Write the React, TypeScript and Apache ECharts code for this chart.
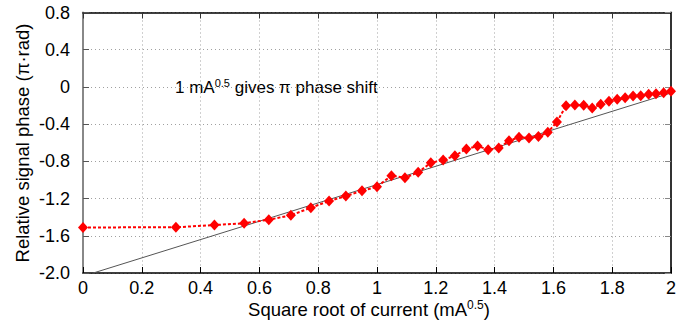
import React, { useEffect, useRef } from "react";
import * as echarts from "echarts";

// sqrt of current (mA^0.5)
const xValues = [
  0, 0.316, 0.447, 0.548, 0.632, 0.707, 0.775, 0.837, 0.894, 0.949, 1.0,
  1.049, 1.095, 1.14, 1.183, 1.225, 1.265, 1.304, 1.342, 1.378, 1.414,
  1.449, 1.483, 1.517, 1.549, 1.581, 1.612, 1.643, 1.673, 1.703, 1.732,
  1.761, 1.789, 1.817, 1.844, 1.871, 1.897, 1.924, 1.949, 1.975, 2.0,
];
// relative signal phase (pi rad)
const phaseValues = [
  -1.51, -1.509, -1.484, -1.466, -1.427, -1.38, -1.298, -1.226, -1.173,
  -1.116, -1.073, -0.954, -0.976, -0.918, -0.815, -0.786, -0.739, -0.667,
  -0.635, -0.675, -0.657, -0.578, -0.542, -0.55, -0.533, -0.488, -0.377,
  -0.202, -0.195, -0.198, -0.227, -0.187, -0.155, -0.133, -0.116, -0.098,
  -0.094, -0.08, -0.073, -0.062, -0.047,
];
// reference line endpoints (slope ~ 1 pi per mA^0.5)
const fitLine = [
  [0.035, -2.0],
  [2.0, -0.065],
];
const yTickLabels: Record<string, string> = {
  "0.8": "0.8",
  "0.4": "0.4",
  "0": "0",
  "-0.4": "-0.4",
  "-0.8": "-0.8",
  "-1.2": "-1.2",
  "-1.6": "-1.6",
  "-2": "-2.0",
};

const FONT = "Liberation Sans, Arial, sans-serif";

export default function App() {
  const ref = useRef<HTMLDivElement>(null);
  useEffect(() => {
    document.body.style.margin = "0";
    if (!ref.current) return;
    const chart = echarts.init(ref.current, null, { renderer: "svg" });
    const measured = xValues.map((x, i) => [x, phaseValues[i]]);
    const gridLine = { show: true, lineStyle: { color: "#a0a0a0", type: [1, 3], width: 1 } };
    chart.setOption({
      animation: false,
      backgroundColor: "#ffffff",
      grid: { left: 83, right: 9, top: 12.5, bottom: 60, containLabel: false },
      xAxis: [
        {
          type: "value",
          min: 0,
          max: 2,
          interval: 0.2,
          axisLine: { show: true, onZero: false, lineStyle: { color: "#000", width: 1.5 } },
          axisTick: { show: true, inside: true, length: 6, lineStyle: { color: "#000" } },
          axisLabel: { fontSize: 18, color: "#000", fontFamily: FONT, margin: 6 },
          splitLine: gridLine,
        },
        {
          type: "value",
          position: "top",
          min: 0,
          max: 2,
          interval: 0.2,
          axisLine: { show: true, onZero: false, lineStyle: { color: "#000", width: 1.5 } },
          axisTick: { show: true, inside: true, length: 6, lineStyle: { color: "#333" } },
          axisLabel: { show: false },
          splitLine: { show: false },
        },
      ],
      yAxis: [
        {
          type: "value",
          min: -2,
          max: 0.8,
          interval: 0.4,
          axisLine: { show: true, onZero: false, lineStyle: { color: "#888", width: 2 } },
          axisTick: { show: true, inside: true, length: 6, lineStyle: { color: "#555" } },
          axisLabel: {
            fontSize: 18,
            color: "#000",
            fontFamily: FONT,
            margin: 13,
            formatter: (v: number) => {
              const k = String(Math.round(v * 10) / 10);
              return yTickLabels[k] ?? k;
            },
          },
          splitLine: gridLine,
        },
        {
          type: "value",
          position: "right",
          min: -2,
          max: 0.8,
          interval: 0.4,
          axisLine: { show: true, onZero: false, lineStyle: { color: "#333", width: 2 } },
          axisTick: { show: true, inside: true, length: 6, lineStyle: { color: "#888" } },
          axisLabel: { show: false },
          splitLine: { show: false },
        },
      ],
      series: [
        {
          type: "line",
          data: fitLine,
          symbol: "none",
          lineStyle: { color: "#555", width: 1 },
          z: 2,
          silent: true,
        },
        {
          type: "line",
          data: measured,
          symbol: "diamond",
          symbolSize: [10, 11],
          itemStyle: { color: "#ff0000" },
          lineStyle: { color: "#ff0000", width: 2, type: [3, 2] },
          z: 3,
        },
      ],
      graphic: [
        {
          type: "text",
          x: 369,
          y: 309,
          style: {
            text: "{a|Square root of current (mA}{b|0.5}{a|)}",
            align: "center",
            verticalAlign: "middle",
            rich: {
              a: { fontSize: 18.5, fontFamily: FONT, fill: "#000", lineHeight: 21 },
              b: { fontSize: 12, fontFamily: FONT, fill: "#000", lineHeight: 21, verticalAlign: "top" },
            },
          },
        },
        {
          type: "text",
          x: 22,
          y: 143,
          rotation: Math.PI / 2,
          style: {
            text: "Relative signal phase (π·rad)",
            align: "center",
            verticalAlign: "middle",
            fontSize: 18.5,
            fontFamily: FONT,
            fill: "#000",
          },
        },
        {
          type: "text",
          x: 175,
          y: 87,
          style: {
            text: "{a|1 mA}{b|0.5}{a| gives π phase shift}",
            align: "left",
            verticalAlign: "middle",
            rich: {
              a: { fontSize: 17, fontFamily: FONT, fill: "#000", lineHeight: 20 },
              b: { fontSize: 11, fontFamily: FONT, fill: "#000", lineHeight: 20, verticalAlign: "top" },
            },
          },
        },
      ],
    });
    return () => chart.dispose();
  }, []);
  return <div ref={ref} style={{ width: 680, height: 333 }} />;
}
